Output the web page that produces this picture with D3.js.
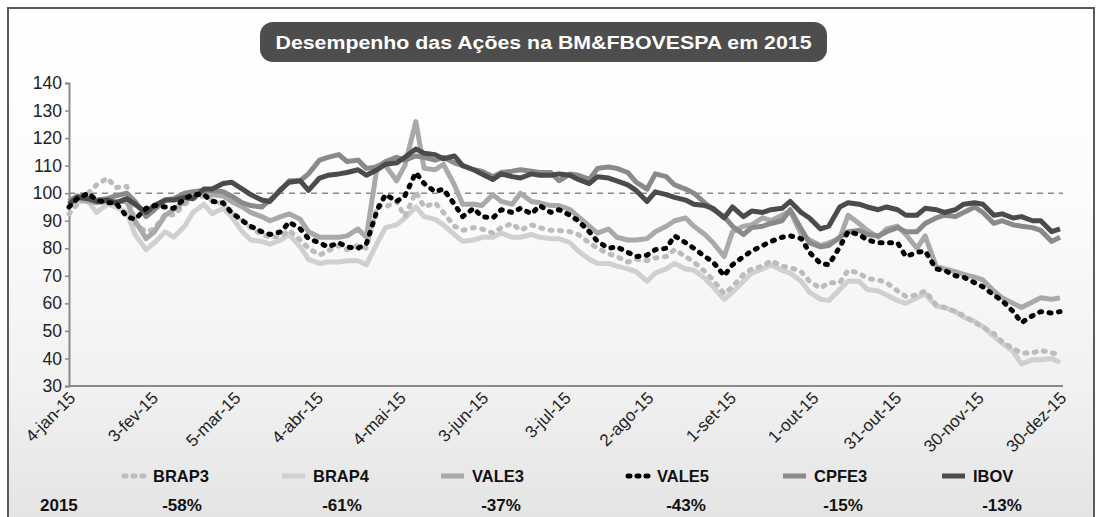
<!DOCTYPE html>
<html><head><meta charset="utf-8">
<script src="https://cdn.jsdelivr.net/npm/d3@7"></script>
<style>
html,body{margin:0;padding:0;background:#fff;}
svg{display:block;font-family:"Liberation Sans",Arial,Helvetica,sans-serif;}
</style></head>
<body>
<svg id="chart" width="1100" height="517"></svg>
<script>
const dates = ["2015-01-04","2015-01-07","2015-01-11","2015-01-14","2015-01-18","2015-01-21","2015-01-25","2015-01-28",
"2015-02-01","2015-02-04","2015-02-08","2015-02-11","2015-02-15","2015-02-18","2015-02-22","2015-02-25",
"2015-03-01","2015-03-04","2015-03-08","2015-03-11","2015-03-15","2015-03-18","2015-03-22","2015-03-25","2015-03-29",
"2015-04-01","2015-04-05","2015-04-08","2015-04-12","2015-04-15","2015-04-19","2015-04-22","2015-04-26","2015-04-29",
"2015-05-03","2015-05-06","2015-05-10","2015-05-13","2015-05-17","2015-05-20","2015-05-24","2015-05-27","2015-05-31",
"2015-06-03","2015-06-07","2015-06-10","2015-06-14","2015-06-17","2015-06-21","2015-06-24","2015-06-28",
"2015-07-01","2015-07-05","2015-07-08","2015-07-12","2015-07-15","2015-07-19","2015-07-22","2015-07-26","2015-07-29",
"2015-08-02","2015-08-05","2015-08-09","2015-08-12","2015-08-16","2015-08-19","2015-08-23","2015-08-26","2015-08-30",
"2015-09-02","2015-09-06","2015-09-09","2015-09-13","2015-09-16","2015-09-20","2015-09-23","2015-09-27","2015-09-30",
"2015-10-04","2015-10-07","2015-10-11","2015-10-14","2015-10-18","2015-10-21","2015-10-25","2015-10-28",
"2015-11-01","2015-11-04","2015-11-08","2015-11-11","2015-11-15","2015-11-18","2015-11-22","2015-11-25","2015-11-29",
"2015-12-02","2015-12-06","2015-12-09","2015-12-13","2015-12-16","2015-12-20","2015-12-23","2015-12-27","2015-12-30"];

const BRAP3 = [92.5,96,100,103,105.5,102,102.5,89,86,87,92.5,92,96,98,99,97.5,96,93,90,87.5,85,84,84.5,86.5,83,80,77.5,79,81,79.5,81,80,
95.5,95,97,91.5,100.5,95,96.5,93,88,86.5,87.5,87,85.5,87.5,89,86.5,88.5,87.5,86.5,86.5,86,85,82,80,78,77,75,76,75.5,76.5,77,79.5,77,75,
71.5,68.5,63.5,66,70.5,72.5,73.5,75.5,73.5,73,71.5,68,65.5,67.5,67.5,72,71,69,68.5,67.5,64.5,62.5,63,64.5,59.5,58.5,57,55.5,53,51.5,
49,46,43.5,42,42,43,42,41.5];
const BRAP4 = [95,97,97,93,96,95,93,85,79.5,82,86,84,88,93,96,92.5,94.5,91.5,86,83,82.5,81.5,83,85,80.5,76,74.5,75,75,75.5,75.5,74,
82,87.5,88.5,91,95,91.5,90.5,88.5,85,82.5,83,84,84,85.5,84,84,85,84,83.5,83.5,82,79,76,74.5,74.5,73.5,72.5,71.5,68,71,72.5,74.5,72.5,72,
69,66,61.5,64,68,71,72.5,74,72,71,68,64,61.5,61,65,68,68,65,64.5,63,61,60,62,63.5,59,58.5,57,55,53.5,51.5,
48,45.5,42.5,38,39.5,39.5,40,38.5];
const VALE3 = [96,98,97,96.5,97,97,97,90,83.5,86,92,94,97,99,100,99.5,99,97,95,93,91.5,90,91.5,92.5,90.5,86,84,84,84,84.5,87,84,
110,110,104.5,110,126,109,108.5,110.5,103,96,96,95.5,99.5,97,96,100,97,96.5,95.5,95.5,94,91.5,88,85.5,87,84,83,83,83.5,86,88,90,91,88,
85,82,77,86,88,88.5,91,90,92,93.5,85,83,81,82,83.5,92,89,86.5,84,87,88,85,80,84.5,73.5,72.5,71.5,70.5,69.5,68.5,
64.5,62,60,58.5,60.5,62,61.5,62];
const VALE5 = [95,98,100,97.5,96.5,96.5,91.5,90.5,94.5,95.5,95,94.5,98,99.5,99.5,97,96.5,93,90,88,86,85,86,89.5,87,83.5,82,80.5,82,80.5,80,81.5,
94,99.5,97,99,107.5,103.5,100.5,101.5,96,91.5,94.5,91.5,91,94,93,94.5,92.5,95.5,93,94,92,90,86,82.5,80,80.5,78.5,77,77.5,79.5,80,84.5,82,80,
77,75,70,74,77,79,81,82.5,84,84.5,83.5,78.5,74.5,74,80.5,86,85,83,82,82,82,77,78.5,79,72.5,72,70,69.5,67.5,66,
63,61,57,53,55.5,57,56.5,57];
const CPFE3 = [97,99,98,97.5,98,99,100,97,91.5,94,97.5,98,100,100.5,101,101,100.5,99,96.5,95.5,95,97.5,101,104.5,104.5,107,112,113,114,111.5,112,109,
109.5,111.5,113,112,113.5,113,112,113,111,110,108.5,108,106,107.5,108,108.5,108,107.5,107.5,104.5,107,106.5,105,109,109.5,109,107.5,104,101.5,107,106,103,101.5,100,
96.5,94,91.5,88,85,87.5,88,89,90,94,87,82,80.5,81,84,86,86.5,85,84.5,86,87.5,86,86,89,91,92,91.5,93,95,93,
89,90,88.5,88,87.5,86.5,82.5,84];
const IBOV = [96,98.5,98,97,97.5,96.5,98,96,93,95.5,97.5,97.5,98.5,98,101.5,101.5,103.5,104,101.5,99.5,97.5,97,101.5,104,104.5,101,105.5,106.5,107,107.5,108.5,106.5,
108.5,110.5,111,113,116,114.5,114,112.5,113.5,110,108.5,107,105,107,106,105.5,107,106.5,106.5,107,106.5,105,103.5,106,105.5,104.5,103,101,97,100.5,99.5,98.5,97.5,96,
95.5,94.5,91,95,91.5,93.5,93,94,94.5,97,93,91,87,88,95,96.5,96,95,94,95,94,92,92,94.5,94,93,94,96,96.5,96,
92,92.5,91,91.5,90,90,86,87];

const seriesNames = ["BRAP3","BRAP4","VALE3","VALE5","CPFE3","IBOV"];
const seriesValues = [BRAP3, BRAP4, VALE3, VALE5, CPFE3, IBOV];
const yearChange = ["-58%","-61%","-37%","-43%","-15%","-13%"];
const yearLabel = "2015";
const tickDates = ["2015-01-04","2015-02-03","2015-03-05","2015-04-04","2015-05-04","2015-06-03","2015-07-03",
"2015-08-02","2015-09-01","2015-10-01","2015-10-31","2015-11-30","2015-12-30"];
const tickLabels = ["4-jan-15","3-fev-15","5-mar-15","4-abr-15","4-mai-15","3-jun-15","3-jul-15",
"2-ago-15","1-set-15","1-out-15","31-out-15","30-nov-15","30-dez-15"];
const yTicks = [30,40,50,60,70,80,90,100,110,120,130,140];
const baseline = 100;
const title = "Desempenho das Ações na BM&FBOVESPA em 2015";

const styles = {
  BRAP3:{color:"#bcbcbc", dash:"2,7.5"},
  BRAP4:{color:"#d0d0d0", dash:null},
  VALE3:{color:"#a9a9a9", dash:null},
  VALE5:{color:"#000000", dash:"2,7.5"},
  CPFE3:{color:"#8a8a8a", dash:null},
  IBOV:{color:"#4b4b4b", dash:null}
};

const svg = d3.select("#chart");
const parse = d3.timeParse("%Y-%m-%d");

// background
const defs = svg.append("defs");
const grad = defs.append("linearGradient").attr("id","bg").attr("x1",0).attr("y1",0).attr("x2",0).attr("y2",1);
grad.append("stop").attr("offset","0%").attr("stop-color","#ffffff");
grad.append("stop").attr("offset","35%").attr("stop-color","#fcfcfc");
grad.append("stop").attr("offset","72%").attr("stop-color","#f1f1f1");
grad.append("stop").attr("offset","100%").attr("stop-color","#e2e2e2");
svg.append("rect").attr("x",8).attr("y",8).attr("width",1086).attr("height",530)
  .attr("fill","url(#bg)").attr("stroke","#5a5a5a").attr("stroke-width",2);

// title
svg.append("rect").attr("x",260).attr("y",22).attr("width",567).attr("height",40).attr("rx",13)
  .attr("fill","#4d4d4d");
svg.append("text").attr("x",543.5).attr("y",49).attr("text-anchor","middle")
  .attr("fill","#fff").attr("font-weight","bold").attr("font-size",18)
  .attr("textLength",536).attr("lengthAdjust","spacingAndGlyphs").text(title);

const x = d3.scaleTime().domain([parse("2015-01-04"), parse("2015-12-30")]).range([69, 1060]);
const y = d3.scaleLinear().domain([30, 140]).range([386, 83]);

// y axis
const yAxis = d3.axisLeft(y).tickValues(yTicks).tickSize(4).tickPadding(3).tickFormat(d3.format("d"));
const gy = svg.append("g").attr("transform","translate(69,0)").call(yAxis);
gy.select(".domain").attr("stroke","#8a8a8a").attr("stroke-width",2);
gy.selectAll(".tick line").attr("stroke","#8a8a8a").attr("stroke-width",1.5);
gy.selectAll(".tick text").attr("font-size",17.5).attr("fill","#222").attr("font-family",null);

// x axis
const xAxis = d3.axisBottom(x).tickValues(tickDates.map(parse)).tickSize(0)
  .tickFormat((d,i)=>tickLabels[i]);
const gx = svg.append("g").attr("transform","translate(0,386)").call(xAxis);
gx.select(".domain").attr("stroke","#8a8a8a").attr("stroke-width",2).attr("d","M69,0H1063");
gx.selectAll(".tick text").attr("font-size",17).attr("fill","#222").attr("font-family",null)
  .attr("text-anchor","end").attr("dy",0).attr("y",0)
  .attr("transform","translate(7,13) rotate(-45)");

// baseline dashed
svg.append("line").attr("x1",69).attr("x2",1063).attr("y1",y(baseline)).attr("y2",y(baseline))
  .attr("stroke","#8a8a8a").attr("stroke-width",1.5).attr("stroke-dasharray","6,5");

// lines
const pd = dates.map(parse);
const line = d3.line().x((d,i)=>x(pd[i])).y(d=>y(d));
const order = [1,0,2,4,5,3];
order.forEach(i=>{
  const st = styles[seriesNames[i]];
  const p = svg.append("path").datum(seriesValues[i]).attr("d",line)
    .attr("fill","none").attr("stroke",st.color).attr("stroke-width",5)
    .attr("stroke-linejoin","round");
  if(st.dash){p.attr("stroke-dasharray",st.dash).attr("stroke-linecap","round");}
});

// legend
const legX = [122,282,441,626,783,942];
const lg = svg.append("g");
seriesNames.forEach((n,i)=>{
  const st = styles[n];
  const l = lg.append("line").attr("x1",legX[i]).attr("x2",legX[i]+23).attr("y1",476).attr("y2",476)
    .attr("stroke",st.color).attr("stroke-width",5);
  if(st.dash){l.attr("stroke-dasharray","2,7").attr("stroke-linecap","round").attr("x1",legX[i]+2);}
  lg.append("text").attr("x",legX[i]+31).attr("y",482).attr("font-size",16.5).attr("font-weight","bold")
    .attr("fill","#111").text(n);
  lg.append("text").attr("x",legX[i]+60).attr("y",511).attr("text-anchor","middle")
    .attr("font-size",17).attr("font-weight","bold").attr("fill","#111").text(yearChange[i]);
});
lg.append("text").attr("x",40).attr("y",511).attr("font-size",17).attr("font-weight","bold")
  .attr("fill","#111").text(yearLabel);
</script>
</body></html>
